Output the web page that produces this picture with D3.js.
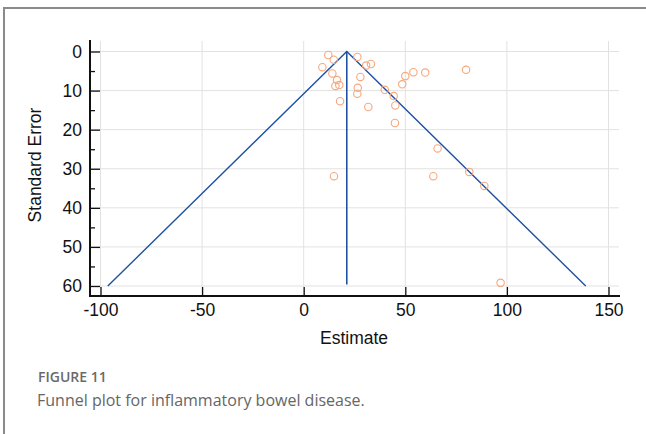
<!DOCTYPE html>
<html>
<head>
<meta charset="utf-8">
<script src="https://cdn.jsdelivr.net/npm/d3@7"></script>
<style>
  html, body { margin: 0; padding: 0; background: #fff; }
  svg { display: block; }
</style>
</head>
<body>
<svg id="chart" width="646" height="434"></svg>
<script>
// Study estimates and their standard errors
const estimates = [12.1, 14.8, 9.2, 26.4, 30.7, 33.1, 14.1, 16.4, 15.6, 17.5,
                   27.9, 17.9, 26.6, 26.4, 31.8, 39.9, 44.3, 45.1, 48.5, 50.0,
                   54.0, 59.8, 79.9, 44.9, 14.9, 63.8, 81.5, 88.9, 96.9, 65.9];
const standardErrors = [0.9, 2.1, 4.0, 1.4, 3.6, 3.2, 5.6, 7.3, 8.8, 8.6,
                        6.5, 12.7, 9.3, 10.8, 14.2, 9.8, 11.4, 13.8, 8.4, 6.3,
                        5.3, 5.4, 4.7, 18.3, 31.9, 31.9, 30.8, 34.4, 59.2, 24.8];
// Pooled estimate and funnel limits
const pooledEstimate = 21.2;
const maxSE = 60;
const zCrit = 1.96;

const xTicks = [-100, -50, 0, 50, 100, 150];
const yTicks = [0, 10, 20, 30, 40, 50, 60];
const yMinorTicks = [5, 15, 25, 35, 45, 55];

const svg = d3.select("#chart");
const axisFont = "'Liberation Sans', Arial, sans-serif";
const axisFontSize = 17.5;

// Outer frame
svg.append("path")
  .attr("d", "M4,434 V8 H646")
  .attr("fill", "none")
  .attr("stroke", "#8a8a8a")
  .attr("stroke-width", 2);

const x = d3.scaleLinear().domain([-100, 150]).range([100.5, 608.5]);
const y = d3.scaleLinear().domain([0, 60]).range([51.5, 286]);

const axisX0 = 90, axisY0 = 296;
const plotRight = 619, plotTop = 41;

// Grid
const grid = svg.append("g").attr("stroke", "#e2e2e2").attr("stroke-width", 1);
grid.selectAll("line.v").data(xTicks).join("line")
  .attr("x1", d => x(d)).attr("x2", d => x(d))
  .attr("y1", plotTop).attr("y2", axisY0);
grid.selectAll("line.h").data(yTicks).join("line")
  .attr("x1", axisX0).attr("x2", plotRight)
  .attr("y1", d => y(d)).attr("y2", d => y(d));

// Funnel
const lineColor = "#1f51a3";
const half = zCrit * maxSE;
svg.append("path")
  .attr("d", d3.line()([
    [x(pooledEstimate - half), y(maxSE)],
    [x(pooledEstimate), y(0)],
    [x(pooledEstimate + half), y(maxSE)]
  ]))
  .attr("fill", "none").attr("stroke", lineColor).attr("stroke-width", 1.4);
svg.append("line")
  .attr("x1", x(pooledEstimate)).attr("x2", x(pooledEstimate))
  .attr("y1", y(0)).attr("y2", y(maxSE) - 1.5)
  .attr("stroke", lineColor).attr("stroke-width", 1.6);

// Studies
svg.append("g").selectAll("circle")
  .data(estimates.map((e, i) => [e, standardErrors[i]]))
  .join("circle")
  .attr("cx", d => x(d[0]))
  .attr("cy", d => y(d[1]))
  .attr("r", 3.7)
  .attr("fill", "none")
  .attr("stroke", "#f7a77c")
  .attr("stroke-width", 1.1);

// X axis
const gx = svg.append("g")
  .attr("transform", `translate(0,${axisY0})`)
  .call(d3.axisBottom(x).tickValues(xTicks).tickSizeInner(-9).tickSizeOuter(0).tickPadding(8)
        .tickFormat(d => String(d)));
gx.select(".domain").remove();
gx.selectAll(".tick line").attr("stroke", "#111").attr("stroke-width", 1.3);
gx.selectAll("text").attr("font-family", axisFont).attr("font-size", axisFontSize).attr("fill", "#111");

// Y axis
const gy = svg.append("g")
  .attr("transform", `translate(${axisX0},0)`)
  .call(d3.axisLeft(y).tickValues(yTicks).tickSizeInner(-10).tickSizeOuter(0).tickPadding(8)
        .tickFormat(d => String(d)));
gy.select(".domain").remove();
gy.selectAll(".tick line").attr("stroke", "#111").attr("stroke-width", 1.3);
gy.selectAll("text").attr("font-family", axisFont).attr("font-size", axisFontSize).attr("fill", "#111");
const gyMinor = svg.append("g")
  .attr("transform", `translate(${axisX0},0)`)
  .call(d3.axisLeft(y).tickValues(yMinorTicks).tickSizeInner(-5).tickSizeOuter(0).tickFormat(""));
gyMinor.select(".domain").remove();
gyMinor.selectAll(".tick line").attr("stroke", "#111").attr("stroke-width", 1.3);

// Axis lines
svg.append("path")
  .attr("d", `M${axisX0},40 V${axisY0} H620`)
  .attr("fill", "none").attr("stroke", "#111").attr("stroke-width", 2);

// Axis titles
svg.append("text")
  .attr("x", 354).attr("y", 344)
  .attr("text-anchor", "middle")
  .attr("font-family", axisFont).attr("font-size", axisFontSize).attr("fill", "#111")
  .text("Estimate");
svg.append("text")
  .attr("transform", `translate(41,165) rotate(-90)`)
  .attr("text-anchor", "middle")
  .attr("font-family", axisFont).attr("font-size", axisFontSize).attr("fill", "#111")
  .text("Standard Error");

// Caption
svg.append("text")
  .attr("x", 38).attr("y", 382)
  .attr("font-family", "'Open Sans', 'Noto Sans', sans-serif")
  .attr("font-size", 14).attr("font-weight", 600).attr("fill", "#6a6a6a")
  .text("FIGURE 11");
svg.append("text")
  .attr("x", 37).attr("y", 406)
  .attr("font-family", "'Open Sans', 'Noto Sans', sans-serif")
  .attr("font-size", 16).attr("font-weight", 400).attr("fill", "#666")
  .text("Funnel plot for inflammatory bowel disease.");
</script>
</body>
</html>
